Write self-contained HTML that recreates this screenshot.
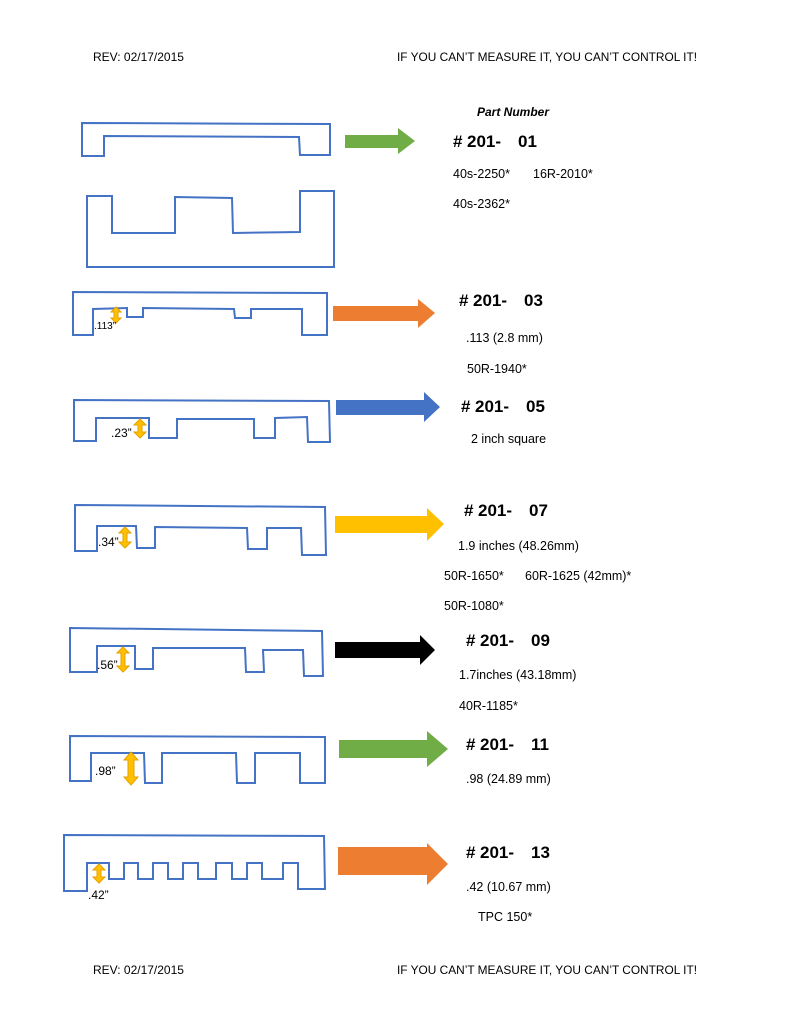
<!DOCTYPE html>
<html><head><meta charset="utf-8"><style>
html,body{margin:0;padding:0;background:#fff;}
svg{display:block;}
text{font-family:"Liberation Sans",sans-serif;fill:#000;}
.h{font-size:17px;font-weight:bold;}
.s{font-size:12.5px;}
.t{font-size:12px;}
.sh{fill:none;stroke:#4472c4;stroke-width:2;}
.da{fill:#ffc000;stroke:#e6a000;stroke-width:1;}
</style></head><body>
<svg width="791" height="1024" viewBox="0 0 791 1024">
<text class="t" x="93" y="61">REV: 02/17/2015</text>
<text class="t" x="397" y="61" textLength="300" lengthAdjust="spacingAndGlyphs">IF YOU CAN’T MEASURE IT, YOU CAN’T CONTROL IT!</text>
<text class="t" x="93" y="974">REV: 02/17/2015</text>
<text class="t" x="397" y="974" textLength="300" lengthAdjust="spacingAndGlyphs">IF YOU CAN’T MEASURE IT, YOU CAN’T CONTROL IT!</text>

<text x="477" y="116" style="font-size:12px;font-weight:bold;font-style:italic">Part Number</text>

<!-- shapes -->
<path class="sh" d="M82,123 L330,124 L330,155 L300,155 L299,137 L104,136 L104,156 L82,156 Z"/>
<path class="sh" d="M87,196 L112,196 L112,233 L175,233 L175,197 L232,198 L233,233 L300,232 L300,191 L334,191 L334,267 L87,267 Z"/>
<path class="sh" d="M73,292 L327,293 L327,335 L302,335 L302,309 L251,309 L251,318 L235,318 L234,309 L143,308 L143,317 L127,317 L127,308 L93,309 L93,335 L73,335 Z"/>
<path class="sh" d="M74,400 L329,401 L330,442 L308,442 L307,417 L275,418 L275,438 L254,438 L254,419 L177,419 L177,438 L149,438 L149,418 L96,418 L96,441 L74,441 Z"/>
<path class="sh" d="M75,505 L325,507 L326,555 L302,555 L301,528 L267,528 L267,549 L248,549 L247,528 L155,527 L155,548 L137,548 L136,526 L97,526 L97,551 L75,551 Z"/>
<path class="sh" d="M70,628 L322,631 L323,676 L304,676 L303,650 L263,650 L264,672 L246,672 L245,648 L153,648 L153,669 L135,669 L135,646 L97,646 L97,672 L70,672 Z"/>
<path class="sh" d="M70,736 L325,737 L325,783 L300,783 L300,753 L255,753 L255,783 L237,783 L236,753 L162,753 L162,783 L145,783 L144,753 L91,753 L91,781 L70,781 Z"/>
<path class="sh" d="M64,835 L324,836 L325,889 L298,889 L298,863 L283,863 L283,879 L262,879 L262,863 L247,863 L247,879 L232,879 L232,863 L216,863 L216,879 L198,879 L198,863 L183,863 L183,879 L168,879 L168,863 L153,863 L153,879 L138,879 L138,863 L124,863 L124,879 L109,879 L109,863 L87,863 L87,891 L64,891 Z"/>

<!-- double arrows -->
<g class="da">
<polygon points="116,307 121,312 118,312 118,318 121,318 116,323 111,318 114,318 114,312 111,312"/>
<polygon points="140,419 146,425 142,425 142,432 146,432 140,438 134,432 138,432 138,425 134,425"/>
<polygon points="125,527 131,533 127,533 127,542 131,542 125,548 119,542 123,542 123,533 119,533"/>
<polygon points="123,647 129,653 125,653 125,666 129,666 123,672 117,666 121,666 121,653 117,653"/>
<polygon points="131,752 138,760 134,760 134,777 138,777 131,785 124,777 128,777 128,760 124,760"/>
<polygon points="99,864 105,870 101,870 101,877 105,877 99,883 93,877 97,877 97,870 93,870"/>
</g>
<text x="94" y="329" style="font-size:10px">.113”</text>
<text x="111" y="437" style="font-size:12px">.23”</text>
<text x="98" y="546" style="font-size:12px">.34”</text>
<text x="97" y="669" style="font-size:12px">.56”</text>
<text x="95" y="775" style="font-size:12px">.98”</text>
<text x="88" y="899" style="font-size:12px">.42”</text>

<!-- block arrows -->
<polygon fill="#70ad47" points="345,135 398,135 398,128 415,141 398,154 398,148 345,148"/>
<polygon fill="#ed7d31" points="333,306 418,306 418,299 435,313 418,328 418,321 333,321"/>
<polygon fill="#4472c4" points="336,400 424,400 424,392 440,407 424,422 424,415 336,415"/>
<polygon fill="#ffc000" points="335,516 427,516 427,508 444,524 427,541 427,533 335,533"/>
<polygon fill="#000" points="335,642 420,642 420,635 435,650 420,665 420,658 335,658"/>
<polygon fill="#70ad47" points="339,740 427,740 427,731 448,749 427,767 427,758 339,758"/>
<polygon fill="#ed7d31" points="338,847 427,847 427,843 448,864 427,885 427,875 338,875"/>

<!-- labels -->
<text class="h" x="453" y="147">#</text><text class="h" x="467" y="147">201-</text><text class="h" x="518" y="147">01</text>
<text class="s" x="453" y="178">40s-2250*</text><text class="s" x="533" y="178">16R-2010*</text>
<text class="s" x="453" y="208">40s-2362*</text>

<text class="h" x="459" y="306">#</text><text class="h" x="473" y="306">201-</text><text class="h" x="524" y="306">03</text>
<text class="s" x="466" y="342">.113 (2.8 mm)</text>
<text class="s" x="467" y="373">50R-1940*</text>

<text class="h" x="461" y="412">#</text><text class="h" x="475" y="412">201-</text><text class="h" x="526" y="412">05</text>
<text class="s" x="471" y="443">2 inch square</text>

<text class="h" x="464" y="516">#</text><text class="h" x="478" y="516">201-</text><text class="h" x="529" y="516">07</text>
<text class="s" x="458" y="550">1.9 inches (48.26mm)</text>
<text class="s" x="444" y="580">50R-1650*</text><text class="s" x="525" y="580">60R-1625 (42mm)*</text>
<text class="s" x="444" y="610">50R-1080*</text>

<text class="h" x="466" y="646">#</text><text class="h" x="480" y="646">201-</text><text class="h" x="531" y="646">09</text>
<text class="s" x="459" y="679">1.7inches (43.18mm)</text>
<text class="s" x="459" y="710">40R-1185*</text>

<text class="h" x="466" y="750">#</text><text class="h" x="480" y="750">201-</text><text class="h" x="531" y="750">11</text>
<text class="s" x="466" y="783">.98 (24.89 mm)</text>

<text class="h" x="466" y="858">#</text><text class="h" x="480" y="858">201-</text><text class="h" x="531" y="858">13</text>
<text class="s" x="466" y="891">.42 (10.67 mm)</text>
<text class="s" x="478" y="921">TPC 150*</text>
</svg>
</body></html>
